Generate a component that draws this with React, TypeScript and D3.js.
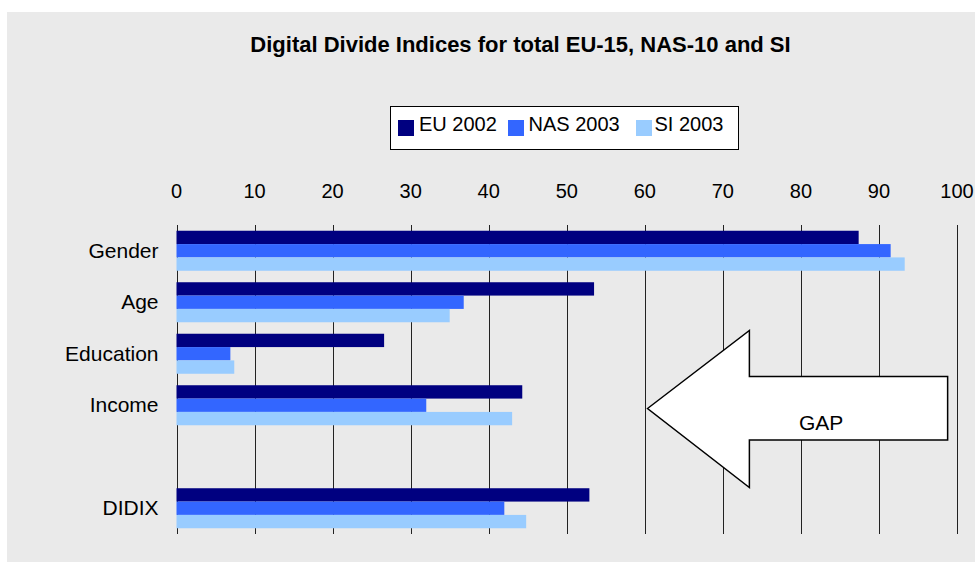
import React from "react";
import * as d3 from "d3";

const categories = ["Gender", "Age", "Education", "Income", "", "DIDIX"];
const seriesNames = ["EU 2002", "NAS 2003", "SI 2003"];
const eu2002 = [87.4, 53.5, 26.6, 44.3, null, 52.9];
const nas2003 = [91.5, 36.8, 6.9, 32.0, null, 42.0];
const si2003 = [93.3, 35.0, 7.4, 43.0, null, 44.8];
const xTicks = [0, 10, 20, 30, 40, 50, 60, 70, 80, 90, 100];
const colors = ["#000080", "#3366FF", "#99CCFF"];
const title = "Digital Divide Indices for total EU-15, NAS-10 and SI";
const arrowLabel = "GAP";
// arrow annotation in data units (x) : tip, head back, shaft end
const arrowX = [60.35, 73.4, 98.8];

const W = 975;
const H = 562;
const FONT = "'Liberation Sans', Arial, sans-serif";

export default function App() {
  const series = [eu2002, nas2003, si2003];
  const x = d3.scaleLinear().domain([0, 100]).range([176.5, 957]);
  const y = d3
    .scaleBand<string>()
    .domain(categories.map((c, i) => c + "#" + i))
    .range([225, 534])
    .paddingInner(0.223)
    .paddingOuter(0.1115);
  const ys = d3
    .scaleBand<number>()
    .domain([0, 1, 2])
    .range([0, y.bandwidth()]);

  // arrow geometry
  const tipY = 408.5;
  const headTop = 330.5;
  const headBot = 487.5;
  const shaftTop = 376.5;
  const shaftBot = 440;
  const arrowPts: [number, number][] = [
    [x(arrowX[0]), tipY],
    [x(arrowX[1]), headTop],
    [x(arrowX[1]), shaftTop],
    [x(arrowX[2]), shaftTop],
    [x(arrowX[2]), shaftBot],
    [x(arrowX[1]), shaftBot],
    [x(arrowX[1]), headBot],
  ];
  const arrowPath = "M" + arrowPts.map((p) => p.join(",")).join("L") + "Z";

  const legendItems = [
    { sx: 398, tx: 419 },
    { sx: 508, tx: 528.5 },
    { sx: 636, tx: 654.5 },
  ];

  return (
    <svg
      width={W}
      height={H}
      style={{ position: "absolute", left: 0, top: 0, fontFamily: FONT }}
    >
      <rect x={7} y={12} width={W - 7} height={H - 12} fill="#EAEAEA" />
      <text
        x={520.5}
        y={52}
        textAnchor="middle"
        fontWeight="bold"
        fontSize={22}
        fill="#000"
      >
        {title}
      </text>

      {/* legend */}
      <rect x={390.5} y={106.5} width={348} height={43} fill="#fff" stroke="#000" strokeWidth={1} />
      {seriesNames.map((s, i) => (
        <g key={s}>
          <rect x={legendItems[i].sx} y={120} width={16} height={16} fill={colors[i]} />
          <text x={legendItems[i].tx} y={131} fontSize={20} fill="#000">
            {s}
          </text>
        </g>
      ))}

      {/* tick labels */}
      {xTicks.map((t) => (
        <text key={t} x={x(t)} y={197.5} textAnchor="middle" fontSize={20} fill="#000">
          {t}
        </text>
      ))}

      {/* gridlines */}
      {xTicks.map((t) => (
        <line
          key={"g" + t}
          x1={Math.round(x(t)) + 0.5}
          x2={Math.round(x(t)) + 0.5}
          y1={225}
          y2={534}
          stroke="#222"
          strokeWidth={1}
        />
      ))}

      {/* bars */}
      {categories.map((c, ci) => {
        const key = c + "#" + ci;
        const y0 = y(key) as number;
        return (
          <g key={key}>
            {series.map((vals, si) => {
              const v = vals[ci];
              if (v == null) return null;
              return (
                <rect
                  key={si}
                  x={x(0)}
                  y={y0 + (ys(si) as number)}
                  width={x(v) - x(0)}
                  height={ys.bandwidth()}
                  fill={colors[si]}
                />
              );
            })}
            {c && (
              <text
                x={158.5}
                y={y0 + y.bandwidth() / 2 + 7}
                textAnchor="end"
                fontSize={21}
                fill="#000"
              >
                {c}
              </text>
            )}
          </g>
        );
      })}

      {/* GAP arrow annotation */}
      <path d={arrowPath} fill="#fff" stroke="#000" strokeWidth={1.5} strokeLinejoin="miter" />
      <text x={x(82.6)} y={430} textAnchor="middle" fontSize={21} fill="#000">
        {arrowLabel}
      </text>
    </svg>
  );
}
